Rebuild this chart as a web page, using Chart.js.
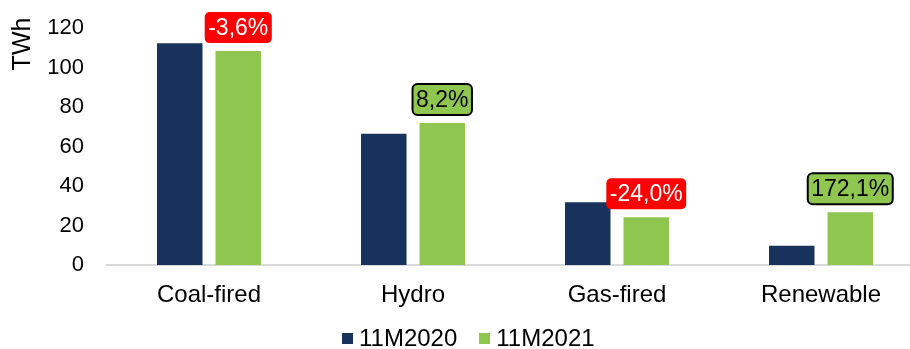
<!DOCTYPE html>
<html>
<head>
<meta charset="utf-8">
<script src="https://cdn.jsdelivr.net/npm/chart.js@4/dist/chart.umd.min.js"></script>
<style>
  html, body { margin: 0; padding: 0; background: #fff; }
  #wrap { position: relative; width: 910px; height: 349px; overflow: hidden; }
  #chart { position: absolute; left: 0; top: 0; }
  #legend { position: absolute; left: 342px; top: 325px; display: flex; align-items: center;
            font-family: "Liberation Sans", Arial, sans-serif; font-size: 24px; color: #000; line-height: 26px; }
  #legend .item { display: flex; align-items: center; margin-right: 22px; }
  #legend .sw { width: 11px; height: 11px; margin-right: 6px; }
</style>
</head>
<body>
<div id="wrap">
  <canvas id="chart" width="923" height="349"></canvas>
  <div id="legend"></div>
</div>
<script>
// Power generation by source, first eleven months of each year (TWh)
const categories = ['Coal-fired', 'Hydro', 'Gas-fired', 'Renewable'];
const seriesNames = ['11M2020', '11M2021'];
const output2020 = [112.3, 66.5, 31.8, 9.8];
const output2021 = [108.3, 71.95, 24.17, 26.67];
// Year-on-year change shown above the 2021 bars (%)
const changePct = [-3.6, 8.2, -24.0, 172.1];
const yTicks = [0, 20, 40, 60, 80, 100, 120];

const NAVY = '#17335b';
const GREEN = '#8ec650';
const FONT = '"Liberation Sans", Arial, sans-serif';

Chart.defaults.font.family = FONT;
Chart.defaults.color = '#000';

// Rounded badges with the yearly change above each 2021 bar
const changeBadges = {
  id: 'changeBadges',
  afterDatasetsDraw(chart) {
    const ctx = chart.ctx;
    const meta = chart.getDatasetMeta(1);
    ctx.save();
    ctx.font = '23px ' + FONT;
    ctx.textAlign = 'center';
    ctx.textBaseline = 'middle';
    meta.data.forEach((bar, i) => {
      const v = changePct[i];
      const text = v.toFixed(1).replace('.', ',') + '%';
      const w = ctx.measureText(text).width + 7;
      const h = 31;
      const x = bar.x - w / 2;
      const y = bar.y - 8 - h;
      ctx.beginPath();
      ctx.roundRect(x, y, w, h, 5);
      if (v < 0) {
        ctx.fillStyle = '#ff0000';
        ctx.fill();
        ctx.fillStyle = '#ffffff';
      } else {
        ctx.fillStyle = GREEN;
        ctx.fill();
        ctx.lineWidth = 2;
        ctx.strokeStyle = '#000';
        ctx.stroke();
        ctx.fillStyle = '#000';
      }
      ctx.fillText(text, bar.x, y + h / 2 + 1);
    });
    ctx.restore();
  }
};

// Vertical unit title at the top of the value axis
const unitTitle = {
  id: 'unitTitle',
  afterDraw(chart) {
    const ctx = chart.ctx;
    ctx.save();
    ctx.translate(23, 44);
    ctx.rotate(-Math.PI / 2);
    ctx.font = '25px ' + FONT;
    ctx.fillStyle = '#000';
    ctx.textAlign = 'center';
    ctx.textBaseline = 'middle';
    ctx.fillText('TWh', 0, 0);
    ctx.restore();
  }
};

const chart = new Chart(document.getElementById('chart'), {
  type: 'bar',
  data: {
    labels: categories,
    datasets: [
      { label: seriesNames[0], data: output2020, backgroundColor: NAVY },
      { label: seriesNames[1], data: output2021, backgroundColor: GREEN }
    ]
  },
  options: {
    responsive: false,
    animation: false,
    datasets: { bar: { categoryPercentage: 0.5735, barPercentage: 0.778 } },
    layout: { padding: { top: 0, right: 0, bottom: 0, left: 0 } },
    plugins: { legend: { display: false }, tooltip: { enabled: false } },
    scales: {
      x: {
        grid: { display: false, drawTicks: false },
        border: { display: true, color: '#d9d9d9', width: 2 },
        ticks: { font: { size: 24 }, padding: 16, color: '#000', maxRotation: 0 },
        afterFit(scale) { scale.height = 84; }
      },
      y: {
        min: 0,
        max: 120,
        afterBuildTicks(scale) { scale.ticks = yTicks.map(v => ({ value: v })); },
        grid: { display: false, drawTicks: false },
        border: { display: false },
        ticks: { font: { size: 22 }, padding: 23, color: '#000' },
        afterFit(scale) {
          scale.width = 107;
          scale.paddingTop = 28;
        }
      }
    }
  },
  plugins: [changeBadges, unitTitle]
});

// Legend row below the category labels
const legend = document.getElementById('legend');
chart.data.datasets.forEach(ds => {
  const item = document.createElement('div');
  item.className = 'item';
  const sw = document.createElement('span');
  sw.className = 'sw';
  sw.style.background = ds.backgroundColor;
  const label = document.createElement('span');
  label.textContent = ds.label;
  item.appendChild(sw);
  item.appendChild(label);
  legend.appendChild(item);
});
</script>
</body>
</html>
